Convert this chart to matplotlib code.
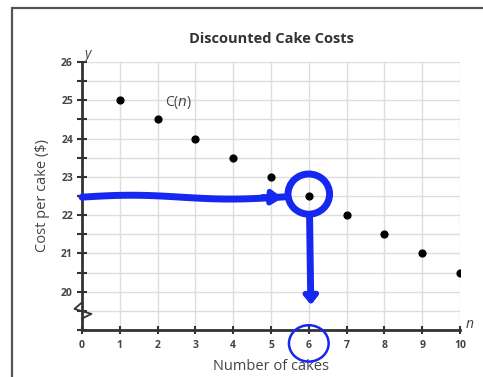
import matplotlib
matplotlib.use("Agg")
import matplotlib.pyplot as plt
import numpy as np
from matplotlib.patches import Ellipse, Rectangle

plt.rcParams['font.family'] = ['Open Sans', 'DejaVu Sans']

n_values = [1, 2, 3, 4, 5, 6, 7, 8, 9, 10]
cost_values = [25, 24.5, 24, 23.5, 23, 22.5, 22, 21.5, 21, 20.5]
x_ticks = [0, 1, 2, 3, 4, 5, 6, 7, 8, 9, 10]
y_ticks = [20, 21, 22, 23, 24, 25, 26]
highlight_n = 6
highlight_cost = 22.5

W, H = 483, 377
fig = plt.figure(figsize=(W / 100, H / 100), dpi=100)
ax = fig.add_axes([82 / W, 1 - 330 / H, (460 - 82) / W, (330 - 62) / H])

# outer frame
fig.patches.append(Rectangle((12 / W, -0.1), 1.2, 1 - 8 / H + 0.1, transform=fig.transFigure,
                             fill=False, edgecolor='#555555', linewidth=1.6))

ax.set_xlim(0, 10)
ax.set_ylim(19, 26)
ax.set_xticks(x_ticks)
ax.set_yticks(y_ticks)
ax.set_yticks(np.arange(19, 26.01, 0.5), minor=True)
ax.grid(True, which='major', axis='x', color='#dddddd', linewidth=1)
ax.grid(True, which='both', axis='y', color='#dddddd', linewidth=1)
ax.set_axisbelow(True)
for s in ['top', 'right']:
    ax.spines[s].set_visible(False)
for s in ['left', 'bottom']:
    ax.spines[s].set_linewidth(2)
    ax.spines[s].set_color('#333333')
ax.tick_params(axis='both', which='both', direction='inout', color='#333333', width=1.5,
               labelsize=7.5, labelcolor='#444444')
ax.tick_params(axis='y', which='both', length=7, pad=3)
ax.tick_params(axis='x', length=6, pad=4)
for lab in ax.get_xticklabels() + ax.get_yticklabels():
    lab.set_fontweight('bold')

ax.scatter(n_values, cost_values, s=24, color='black', zorder=3)

ax.set_title('Discounted Cake Costs', fontsize=10.5, fontweight='bold', color='#333333', pad=14)
ax.set_xlabel('Number of cakes', fontsize=10.5, color='#444444', labelpad=6)
ax.set_ylabel('Cost per cake ($)', fontsize=10.5, color='#444444', labelpad=8)
ax.text(2.2, 24.85, r'C($\it{n}$)', fontsize=10, color='#444444')
ax.text(0.05, 26.0, 'y', fontsize=10, fontstyle='italic', color='#444444', va='bottom')
ax.text(10.15, 19.05, 'n', fontsize=10, fontstyle='italic', color='#444444', clip_on=False)

# axis break zigzag
zx = [0, -0.2, 0.25, 0]
zy = [19.72, 19.55, 19.42, 19.3]
ax.plot(zx, zy, color='#333333', lw=1.3, clip_on=False, zorder=4)

# blue annotations
blue = '#1428f0'
xs = np.linspace(0, highlight_n - 0.65, 50)
ys = highlight_cost + 0.05 * np.sin(xs * 1.2) - 0.03
ax.plot(xs, ys, color=blue, lw=5, solid_capstyle='round', clip_on=False, zorder=5)
ax.annotate('', xy=(highlight_n - 0.62, highlight_cost - 0.05), xytext=(highlight_n - 1.3, highlight_cost - 0.02),
            arrowprops=dict(arrowstyle='-|>,head_length=0.6,head_width=0.4', color=blue, lw=4), zorder=5)
ax.add_patch(Ellipse((highlight_n, highlight_cost + 0.05), 1.1, 1.05, fill=False, edgecolor=blue, lw=5, zorder=5))
ax.plot([highlight_n + 0.02, highlight_n + 0.05], [highlight_cost - 0.5, 19.9], color=blue, lw=5, zorder=5)
ax.annotate('', xy=(highlight_n + 0.06, 19.58), xytext=(highlight_n + 0.05, 20.1),
            arrowprops=dict(arrowstyle='-|>,head_length=0.5,head_width=0.4', color=blue, lw=4), zorder=5)
ax.add_patch(Ellipse((highlight_n, 18.65), 1.05, 0.95, fill=False, edgecolor=blue, lw=1.8,
                     zorder=5, clip_on=False))

fig.savefig('out.png', dpi=100)
